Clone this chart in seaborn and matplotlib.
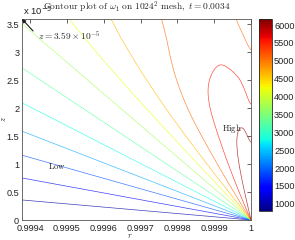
import numpy as np
import seaborn as sns
import matplotlib
import matplotlib.pyplot as plt
from matplotlib.ticker import FuncFormatter

# --------------------------------------------------
# data
# --------------------------------------------------

R_MIN = 0.999378          # left edge of the r axis
R_MAX = 1.0
Z_MAX = 3.59e-5           # top of the z axis (arrow annotation)

LEVELS = [1000, 1455, 1909, 2364, 2818, 3273, 3727, 4182, 4636, 5091, 5545, 6000]
W_MIN, W_MAX = 800, 6170  # colour range of the colorbar
CBAR_TICKS = [1000, 1500, 2000, 2500, 3000, 3500, 4000, 4500, 5000, 5500, 6000]

X_TICKS = [0.9994, 0.9995, 0.9996, 0.9997, 0.9998, 0.9999, 1.0]
Z_TICKS = [0, 0.5, 1, 1.5, 2, 2.5, 3, 3.5]

# screen size of the plot box (px), used for angles seen from the corner (1, 0)
BOX_W, BOX_H = 229, 201

# lower fan: omega depends on the angle only (deg, value)
FAN_ANGLE = [0, 5.0, 10.4, 15.8, 21.2, 27.1, 33.6, 40.6]
FAN_VALUE = [800, 1000, 1455, 1909, 2364, 2818, 3273, 3727]

# upper part: omega along rays from the corner, sampled at distances RAY_RHO (px)
RAY_ANGLE = [45, 50, 55, 60, 65, 70, 75, 80, 85, 90]
RAY_RHO = [0, 40, 80, 120, 160, 200, 240, 310]
RAY_45 = [4068, 4063, 4057, 4051, 4045, 4034, 4023, 4000]
RAY_50 = [4534, 4511, 4489, 4460, 4426, 4386, 4341, 4273]
RAY_55 = [4898, 4875, 4847, 4818, 4761, 4699, 4636, 4557]
RAY_60 = [5205, 5170, 5131, 5085, 5011, 4920, 4818, 4716]
RAY_65 = [5489, 5432, 5364, 5284, 5193, 5091, 5023, 4920]
RAY_70 = [5710, 5670, 5619, 5545, 5409, 5250, 5170, 5068]
RAY_75 = [5920, 5886, 5818, 5682, 5506, 5330, 5239, 5148]
RAY_80 = [6148, 6125, 6006, 5795, 5528, 5364, 5273, 5182]
RAY_85 = [6398, 6284, 6091, 5750, 5398, 5131, 5045, 4955]
RAY_90 = [6648, 6330, 5977, 5500, 5159, 4932, 4864, 4807]

# --------------------------------------------------
# field on the mesh
# --------------------------------------------------

r = np.linspace(R_MIN, R_MAX, 500)
z = np.linspace(0, Z_MAX, 500)
R, Z = np.meshgrid(r, z)

X = (R_MAX - R) / (R_MAX - R_MIN) * BOX_W
Y = Z / Z_MAX * BOX_H
theta = np.degrees(np.arctan2(Y, X))
rho = np.hypot(X, Y)

rows = [np.full(len(RAY_RHO), v, dtype=float) for v in FAN_VALUE]
rows += [np.array(v, dtype=float) for v in
         [RAY_45, RAY_50, RAY_55, RAY_60, RAY_65,
          RAY_70, RAY_75, RAY_80, RAY_85, RAY_90]]
table = np.array(rows)
angles = FAN_ANGLE + RAY_ANGLE


def cr_weights(t):
    # Catmull-Rom weights for the 4 neighbouring table nodes
    t2, t3 = t * t, t * t * t
    return [(-t3 + 2 * t2 - t) / 2,
            (3 * t3 - 5 * t2 + 2) / 2,
            (-3 * t3 + 4 * t2 + t) / 2,
            (t3 - t2) / 2]


na, nr = table.shape
pa = np.interp(theta, angles, np.arange(na))
pr = np.interp(rho, RAY_RHO, np.arange(nr))
ia = np.clip(np.floor(pa).astype(int), 0, na - 2)
ir = np.clip(np.floor(pr).astype(int), 0, nr - 2)
wa = cr_weights(pa - ia)
wr = cr_weights(pr - ir)

W = np.zeros_like(theta)
for a in range(4):
    ja = np.clip(ia + a - 1, 0, na - 1)
    for b in range(4):
        jb = np.clip(ir + b - 1, 0, nr - 1)
        W += wa[a] * wr[b] * table[ja, jb]

# --------------------------------------------------
# plot
# --------------------------------------------------

sns.set_theme(style="white")
plt.rcParams["font.family"] = ["Liberation Sans", "DejaVu Sans"]
plt.rcParams["mathtext.fontset"] = "cm"

fig = plt.figure(figsize=(2.95, 2.40), dpi=100)
ax = fig.add_axes([22 / 295, 20 / 240, 229 / 295, 201 / 240])
cax = fig.add_axes([259 / 295, 29 / 240, 13 / 295, 192 / 240])

norm = matplotlib.colors.Normalize(W_MIN, W_MAX)
ax.contour(R, Z, W, levels=LEVELS, cmap="jet", norm=norm,
           linewidths=0.5, alpha=0.75)

ax.set_xlim(R_MIN, R_MAX)
ax.set_ylim(0, Z_MAX)
ax.set_xticks(X_TICKS)
ax.set_yticks([v * 1e-5 for v in Z_TICKS])
ax.xaxis.set_major_formatter(FuncFormatter(lambda v, p: f"{v:.4f}".rstrip("0").rstrip(".")))
ax.yaxis.set_major_formatter(FuncFormatter(lambda v, p: f"{v * 1e5:g}"))
ax.tick_params(direction="in", length=3, width=0.5, top=True, right=True,
               labelsize=6.6, colors="#222222")
ax.tick_params(axis="x", pad=2.6)
ax.tick_params(axis="y", pad=2)
for s in ax.spines.values():
    s.set_linewidth(0.6)
    s.set_color("#555555")

ax.set_xlabel("$r$", fontsize=6)
ax.set_ylabel("$z$", fontsize=6)
ax.xaxis.set_label_coords(0.472, -0.058)
ax.yaxis.set_label_coords(-0.06, 0.5)

ax.text(0.5, 1 + 9 / 201,
        r"$\mathrm{Contour\ plot\ of}\ \omega_1\ \mathrm{on}\ 1024^2\ \mathrm{mesh},\ t = 0.0034$",
        transform=ax.transAxes, ha="center", va="baseline", fontsize=6.8)

ax.text(1 / 229, 1 + 2 / 201, "x 10$^{-5}$", transform=ax.transAxes,
        ha="left", va="bottom", fontsize=6.8, math_fontfamily="dejavusans",
        color="#222222")

ax.annotate("", xy=(R_MIN, Z_MAX), xytext=(0.999408, 3.376e-5),
            arrowprops=dict(arrowstyle="-|>", color="k", lw=0.8,
                            mutation_scale=5, shrinkA=0, shrinkB=0))
ax.text(0.999421, 3.295e-5, r"$z = 3.59\times10^{-5}$", fontsize=6.8,
        ha="left", va="center")

ax.text(0.999473, 0.964e-5, r"$\mathrm{Low}$", fontsize=6.3, ha="center", va="center")
ax.text(0.9999484, 1.643e-5, r"$\mathrm{High}$", fontsize=6.3, ha="center", va="center")

sm = matplotlib.cm.ScalarMappable(norm=norm, cmap="jet")
cb = fig.colorbar(sm, cax=cax, ticks=CBAR_TICKS)
cb.outline.set_linewidth(0.6)
cax.tick_params(direction="in", length=2, width=0.5, labelsize=6.6, pad=1.5,
                left=True, right=True, colors="#222222")

fig.savefig("out.png", dpi=100)
